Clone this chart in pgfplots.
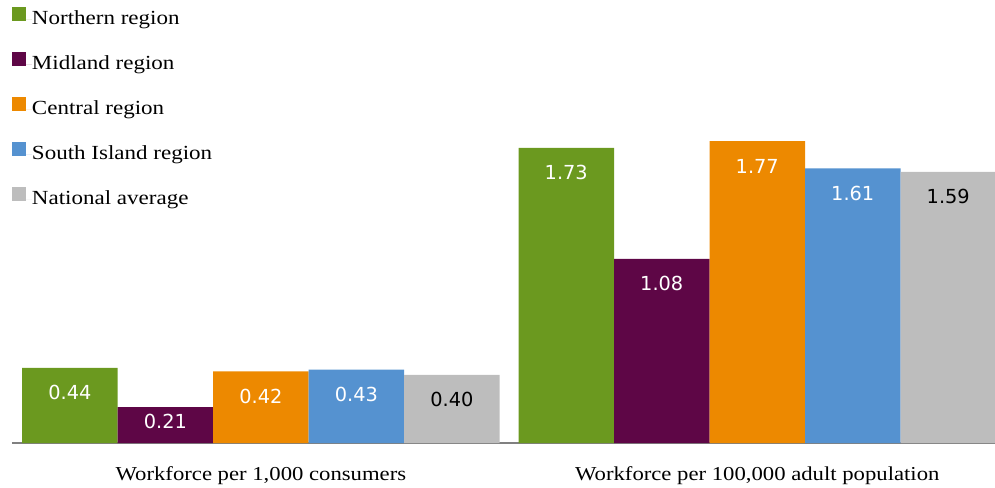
\documentclass[border=0pt]{standalone}
\usepackage{fontspec}
\setmainfont[FakeStretch=1.15]{Liberation Serif}
\newfontfamily\numfont{DejaVu Sans}
\usepackage{pgfplots}
\pgfplotsset{compat=1.18}
\definecolor{cNorth}{RGB}{107,153,31}
\definecolor{cMid}{RGB}{94,6,70}
\definecolor{cCent}{RGB}{237,137,0}
\definecolor{cSouth}{RGB}{85,146,208}
\definecolor{cNat}{RGB}{189,189,189}
\definecolor{cAxis}{RGB}{128,128,128}
\begin{document}
\begin{tikzpicture}
\useasboundingbox (0,0) rectangle (746.25pt,365.25pt);
\begin{axis}[
  at={(9pt,33pt)}, anchor=south west, scale only axis,
  width=737.25pt, height=255.9pt,
  ymin=0, ymax=2, xmin=-0.5015, xmax=1.479,
  ybar=0pt, bar width=71.625pt,
  axis x line*=bottom, axis y line=none,
  x axis line style={cAxis, line width=1.5pt},
  xtick={0,1},
  xticklabels={Workforce per 1{,}000 consumers, Workforce per 100{,}000 adult population},
  major tick length=0pt, ytick=\empty,
  xticklabel style={anchor=base, inner sep=0pt, yshift=-28.3pt, font=\fontsize{14.8pt}{18pt}\selectfont},
  point meta=explicit symbolic,
  nodes near coords,
  nodes near coords style={font=\numfont\fontsize{14.5pt}{17pt}\selectfont, anchor=center, yshift=-18.75pt, text=white},
  coordinate style/.condition={y<0.3}{yshift=8pt},
  legend style={at={(axis description cs:0,1.279)}, anchor=north west, draw=none, fill=none,
    inner sep=0pt, outer sep=0pt, row sep=17pt,
    font=\fontsize{15pt}{18pt}\selectfont,
    nodes={inner sep=0pt, text height=10.5pt, text depth=3.5pt},
    cells={anchor=west}},
  legend cell align=left,
  legend image code/.code={\fill[#1,draw=none] (0pt,-0.75pt) rectangle (10.5pt,9.75pt); \path (0pt,0pt) -- (15pt,0pt);},
]
\addplot[fill=cNorth, draw=none] coordinates {(0,0.44) [0.44] (1,1.73) [1.73]};
\addplot[fill=cMid, draw=none] coordinates {(0,0.21) [0.21] (1,1.08) [1.08]};
\addplot[fill=cCent, draw=none] coordinates {(0,0.42) [0.42] (1,1.77) [1.77]};
\addplot[fill=cSouth, draw=none] coordinates {(0,0.43) [0.43] (1,1.61) [1.61]};
\addplot[fill=cNat, draw=none, nodes near coords style={text=black}] coordinates {(0,0.40) [0.40] (1,1.59) [1.59]};
\legend{Northern region, Midland region, Central region, South Island region, National average}
\end{axis}
\end{tikzpicture}
\end{document}
